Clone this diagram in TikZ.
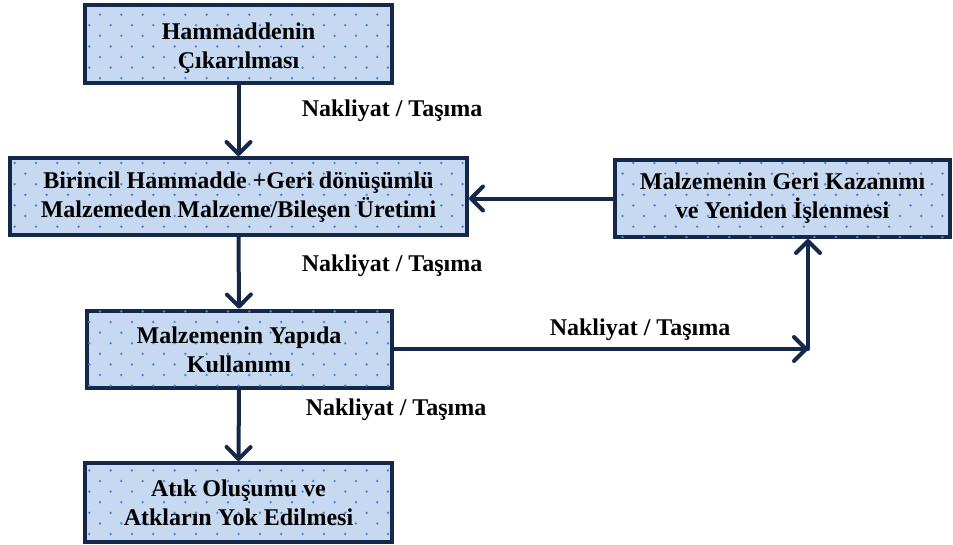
\documentclass[tikz,border=0pt]{standalone}
\usepackage{fontspec}
\setmainfont{Liberation Serif}
\usetikzlibrary{arrows.meta,calc}

\definecolor{boxfill}{HTML}{C6D9F1}
\definecolor{boxdot}{HTML}{4F86D6}
\definecolor{navy}{HTML}{14284A}

\tikzset{
  stagebox/.style={draw=navy, line width=4pt, fill=boxfill, align=center,
    inner sep=0pt, font=\fontsize{24}{29}\selectfont\bfseries},
  flow/.style={draw=navy, line width=4pt, line cap=round,
    -{Straight Barb[length=12pt, width=24pt, line cap=round, line join=round]}},
  flowlabel/.style={font=\fontsize{24}{29}\selectfont\bfseries, inner sep=0pt}
}

% staggered dot texture clipped to a stage box:
% #1 box name, #2-#3 row range, #4-#5 column range
\newcommand{\stagedots}[5]{%
  \begin{scope}
    \clip ($(#1.south west)+(2,-2)$) rectangle ($(#1.north east)+(-2,2)$);
    \foreach \r in {#2,...,#3}{
      \pgfmathsetmacro{\shift}{mod(\r,2)*10.67}
      \foreach \c in {#4,...,#5}{
        \fill[boxdot] ({4+\shift+\c*21.33},{4+\r*10.6}) circle (1.35);
      }
    }
  \end{scope}}

\begin{document}
\begin{tikzpicture}[x=1pt, y=-1pt]
  \useasboundingbox (0,0) rectangle (953,544);

  % stage boxes (frames and fill)
  \node[stagebox, minimum width=307, minimum height=78] (b1) at (238.5,44) {};
  \node[stagebox, minimum width=457, minimum height=77] (b2) at (238.5,196.5) {};
  \node[stagebox, minimum width=305, minimum height=77] (b3) at (239,349) {};
  \node[stagebox, minimum width=307, minimum height=79] (b5) at (238.5,502.5) {};
  \node[stagebox, minimum width=335, minimum height=77] (b4) at (782.5,198.5) {};

  % dotted texture
  \stagedots{b1}{0}{8}{3}{19}
  \stagedots{b2}{14}{23}{0}{22}
  \stagedots{b3}{28}{37}{3}{19}
  \stagedots{b5}{43}{51}{3}{19}
  \stagedots{b4}{14}{23}{28}{45}

  % box texts
  \node[stagebox, draw=none, fill=none] (t1) at ($(b1)+(0,4)$) {Hammaddenin\\Çıkarılması};
  \node[stagebox, draw=none, fill=none] (t2) at ($(b2)+(0,1)$)
    {Birincil Hammadde +Geri dönüşümlü\\Malzemeden Malzeme/Bileşen Üretimi};
  \node[stagebox, draw=none, fill=none] (t3) at ($(b3)+(0,1)$) {Malzemenin Yapıda\\Kullanımı};
  \node[stagebox, draw=none, fill=none] (t5) at (b5) {Atık Oluşumu ve\\Atkların Yok Edilmesi};
  \node[stagebox, draw=none, fill=none] (t4) at (b4)
    {Malzemenin Geri Kazanımı\\ve Yeniden İşlenmesi};

  % corner of the recycling loop
  \coordinate (c) at (808,349);

  % connectors
  \draw[flow] (b1.south) -- (b2.north);
  \draw[flow] (b2.south) -- (b3.north);
  \draw[flow] (b3.south) -- (b5.north);
  \draw[flow] (b4.west) -- (b2.east |- b4.west);
  \draw[flow] (b3.east) -- (c);
  \draw[flow] (c) -- (c |- b4.south);

  % connector labels
  \node[flowlabel] (l1) at (392,111) {Nakliyat / Taşıma};
  \node[flowlabel] (l2) at (392,266) {Nakliyat / Taşıma};
  \node[flowlabel] (l3) at (640,330) {Nakliyat / Taşıma};
  \node[flowlabel] (l4) at (396,410) {Nakliyat / Taşıma};
\end{tikzpicture}
\end{document}
